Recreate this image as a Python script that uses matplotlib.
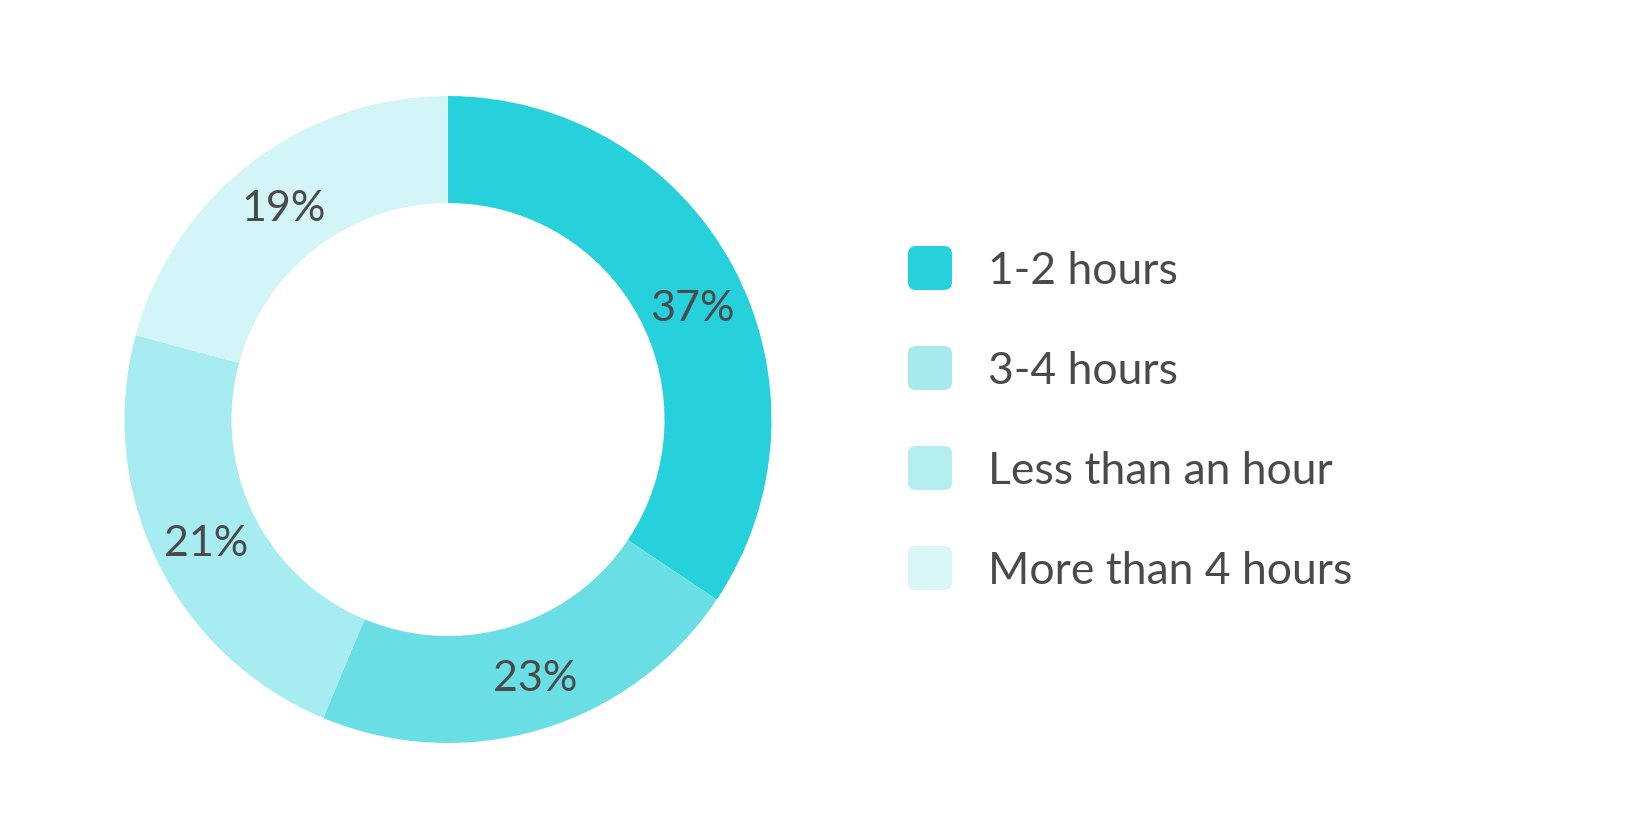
import matplotlib
matplotlib.use("Agg")
import matplotlib.pyplot as plt
from matplotlib.patches import FancyBboxPatch
import numpy as np

# datos
categorias = ["1-2 hours", "3-4 hours", "Less than an hour", "More than 4 hours"]
porciones = [34.4, 21.9, 22.9, 20.8]          # tamano de cada arco medido en la imagen
etiquetas = ["37%", "23%", "21%", "19%"]       # textos sobre el anillo
colores_anillo = ["#26d1dc", "#69dfe5", "#a7ecf0", "#d4f5f7"]
colores_leyenda = ["#26d1dc", "#a6eaee", "#b4eeef", "#d8f5f7"]

W, H = 1652, 840
gris = "#4a4a4a"
fuente = ["Lato", "DejaVu Sans"]

fig = plt.figure(figsize=(W / 100, H / 100), dpi=100)
fig.patch.set_facecolor("white")

# anillo
cx, cy, r = 448, 419.5, 323.5
ax = fig.add_axes([(cx - r) / W, (H - cy - r) / H, 2 * r / W, 2 * r / H])
ancho = 107 / r
cunas, _ = ax.pie(porciones, colors=colores_anillo, startangle=90, counterclock=False,
                  radius=1, wedgeprops=dict(width=ancho, linewidth=0))
ax.set_xlim(-1, 1)
ax.set_ylim(-1, 1)
ax.set_aspect("equal")
ax.axis("off")

# pequeno ajuste de angulo para que las etiquetas caigan donde en el original
ajuste = [-3, 2, 0.5, 0]
rm = 1 - ancho / 2
for cuna, txt, d in zip(cunas, etiquetas, ajuste):
    th = np.deg2rad((cuna.theta1 + cuna.theta2) / 2 + d)
    ax.text(rm * np.cos(th), rm * np.sin(th), txt, ha="center", va="center_baseline",
            fontsize=31, color=gris, family=fuente)

# leyenda con cajas redondeadas
lg = fig.add_axes([0, 0, 1, 1])
lg.set_xlim(0, W)
lg.set_ylim(H, 0)
lg.axis("off")
for i, (cat, col) in enumerate(zip(categorias, colores_leyenda)):
    y = 268 + i * 100
    caja = FancyBboxPatch((908 + 8, y - 22 + 8), 44 - 16, 44 - 16,
                          boxstyle="round,pad=8", facecolor=col, edgecolor="none")
    lg.add_patch(caja)
    lg.text(988, y, cat, ha="left", va="center_baseline", fontsize=32, color=gris, family=fuente)

fig.savefig("out.png", dpi=100, facecolor="white")
